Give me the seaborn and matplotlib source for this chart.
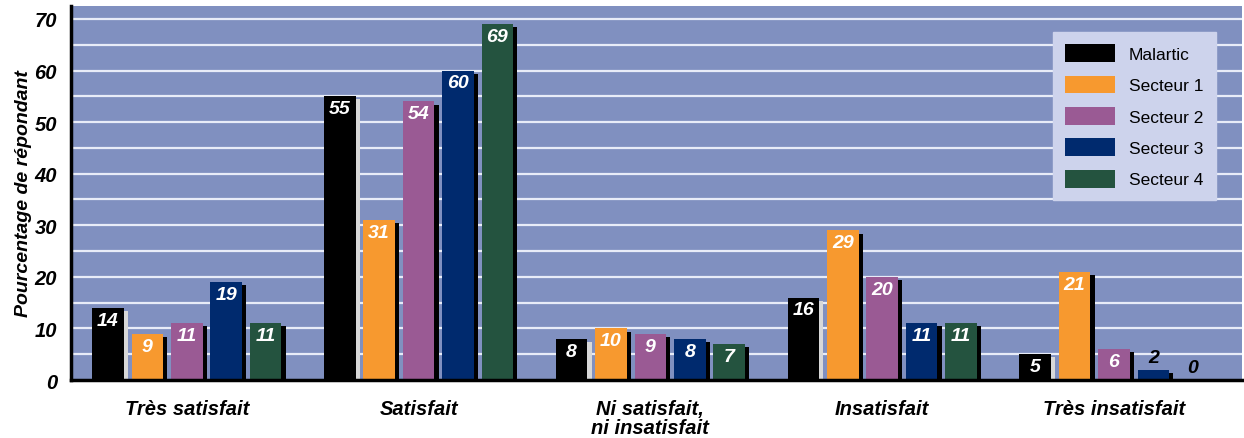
import matplotlib.pyplot as plt
import matplotlib.patches as mpatches
import pandas as pd
import seaborn as sns

categories = ["Très satisfait", "Satisfait", "Ni satisfait,\nni insatisfait", "Insatisfait", "Très insatisfait"]
series = ["Malartic", "Secteur 1", "Secteur 2", "Secteur 3", "Secteur 4"]
malartic = [14, 55, 8, 16, 5]
secteur1 = [9, 31, 10, 29, 21]
secteur2 = [11, 54, 9, 20, 6]
secteur3 = [19, 60, 8, 11, 2]
secteur4 = [11, 69, 7, 11, 0]
colors = ["#000000", "#F7992F", "#9A5A94", "#002A6E", "#24533F"]

rows = []
for name, vals in zip(series, [malartic, secteur1, secteur2, secteur3, secteur4]):
    for cat, v in zip(categories, vals):
        rows.append({"cat": cat, "serie": name, "val": v})
df = pd.DataFrame(rows)

sns.set_style("white")
plt.rcParams['font.family'] = ['Liberation Sans', 'DejaVu Sans']
plt.rcParams['text.color'] = 'black'
plt.rcParams['xtick.color'] = 'black'
plt.rcParams['ytick.color'] = 'black'
plt.rcParams['axes.labelcolor'] = 'black'

fig = plt.figure(figsize=(12.44, 4.39), dpi=100)
ax = fig.add_axes([0.057, 0.132, 0.941, 0.852])
ax.set_facecolor("#8090C0")

sns.barplot(data=df, x="cat", y="val", hue="serie", order=categories, hue_order=series,
            palette=colors, saturation=1, width=0.85, gap=0.2, ax=ax, zorder=3,
            legend=True, linewidth=0, edgecolor="none")

# ombres et étiquettes
for container, name in zip(ax.containers, series):
    for bar in container:
        h = bar.get_height()
        x = bar.get_x()
        w = bar.get_width()
        shade = "#D8D8D8" if name == "Malartic" else "black"
        if h > 0:
            top = h - 0.6 if h > 1 else h
            ax.add_patch(mpatches.Rectangle((x + 0.018, -0.4), w, top + 0.4,
                                            facecolor=shade, edgecolor="none", zorder=2))
        cx = x + w / 2
        if h > 3:
            ax.text(cx, h - 2.4, f"{int(h)}", ha="center", va="center", color="white",
                    fontsize=14, fontweight="bold", style="italic", zorder=5)
        else:
            ax.text(cx, h + 2.4, f"{int(h)}", ha="center", va="center", color="black",
                    fontsize=14, fontweight="bold", style="italic", zorder=5)

ax.set_ylim(0, 72.5)
ax.set_xlim(-0.5, 4.55)
ax.set_yticks(range(0, 71, 10))
ax.set_yticks(range(5, 71, 10), minor=True)
for y in range(5, 71, 5):
    ax.axhline(y, color="#E8ECF8", lw=1.6, zorder=1)

ax.set_xticks(range(len(categories)))
ax.set_xticklabels(categories, fontsize=14.5, fontweight="bold", style="italic", linespacing=0.95)
ax.set_xticks([0.5, 1.5, 2.5, 3.5, 4.5], minor=True)
ax.tick_params(axis="x", which="major", length=0, pad=14)
ax.tick_params(axis="x", which="minor", length=7, width=2, direction="in", color="black")
ax.tick_params(axis="y", which="both", length=6, width=1.2, direction="in", color="black", pad=10)
for lab in ax.get_yticklabels():
    lab.set_fontsize(14.5)
    lab.set_fontweight("bold")
    lab.set_style("italic")

ax.set_xlabel("")
ax.set_ylabel("Pourcentage de répondant", fontsize=14, fontweight="bold", style="italic", labelpad=2)

for s in ["top", "right"]:
    ax.spines[s].set_visible(False)
for s in ["left", "bottom"]:
    ax.spines[s].set_linewidth(2.5)
    ax.spines[s].set_color("black")
    ax.spines[s].set_zorder(6)

leg = ax.legend(loc="upper right", bbox_to_anchor=(0.978, 0.93), fontsize=12.5, frameon=True,
                fancybox=False, handlelength=2.9, handleheight=1.2, labelspacing=0.78,
                borderpad=0.7, handletextpad=0.8, borderaxespad=0, title=None)
leg.get_frame().set_facecolor("#CDD3EC")
leg.get_frame().set_edgecolor("#CDD3EC")
leg.get_frame().set_alpha(1)
leg.set_zorder(7)

fig.savefig("out.png", dpi=100)
